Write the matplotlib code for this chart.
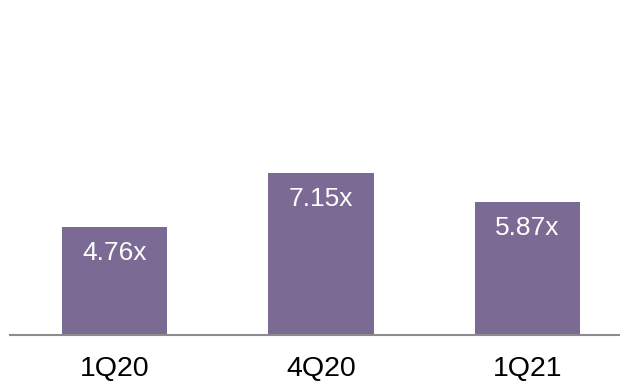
import matplotlib
matplotlib.use("Agg")
import matplotlib.pyplot as plt

# data
quarters = ["1Q20", "4Q20", "1Q21"]
multiples = [4.76, 7.15, 5.87]
labels = ["4.76x", "7.15x", "5.87x"]

plt.rcParams['font.family'] = ['Liberation Sans', 'DejaVu Sans']

fig = plt.figure(figsize=(6.2, 3.82), dpi=100)
ax = fig.add_axes([10 / 620, 47 / 382, 610 / 620, 335 / 382])

x = range(len(quarters))
bars = ax.bar(x, multiples, width=0.51, color='#7b6a93')

# value labels sit inside the bar, near the top
for b, lab in zip(bars, labels):
    ax.annotate(lab, (b.get_x() + b.get_width() / 2, b.get_height()),
                xytext=(0, -26), textcoords='offset pixels',
                ha='center', va='center', color='white', fontsize=19)

ax.set_xlim(-0.506, 2.448)
ax.set_ylim(0, 14.76)
ax.set_xticks(list(x))
ax.set_xticklabels(quarters, fontsize=20.5)
ax.tick_params(axis='x', length=0, pad=15)
ax.set_yticks([])
for s in ['top', 'right', 'left']:
    ax.spines[s].set_visible(False)
ax.spines['bottom'].set_color('#8c8c8c')
ax.spines['bottom'].set_linewidth(1.5)

fig.savefig("out.png", dpi=100)
